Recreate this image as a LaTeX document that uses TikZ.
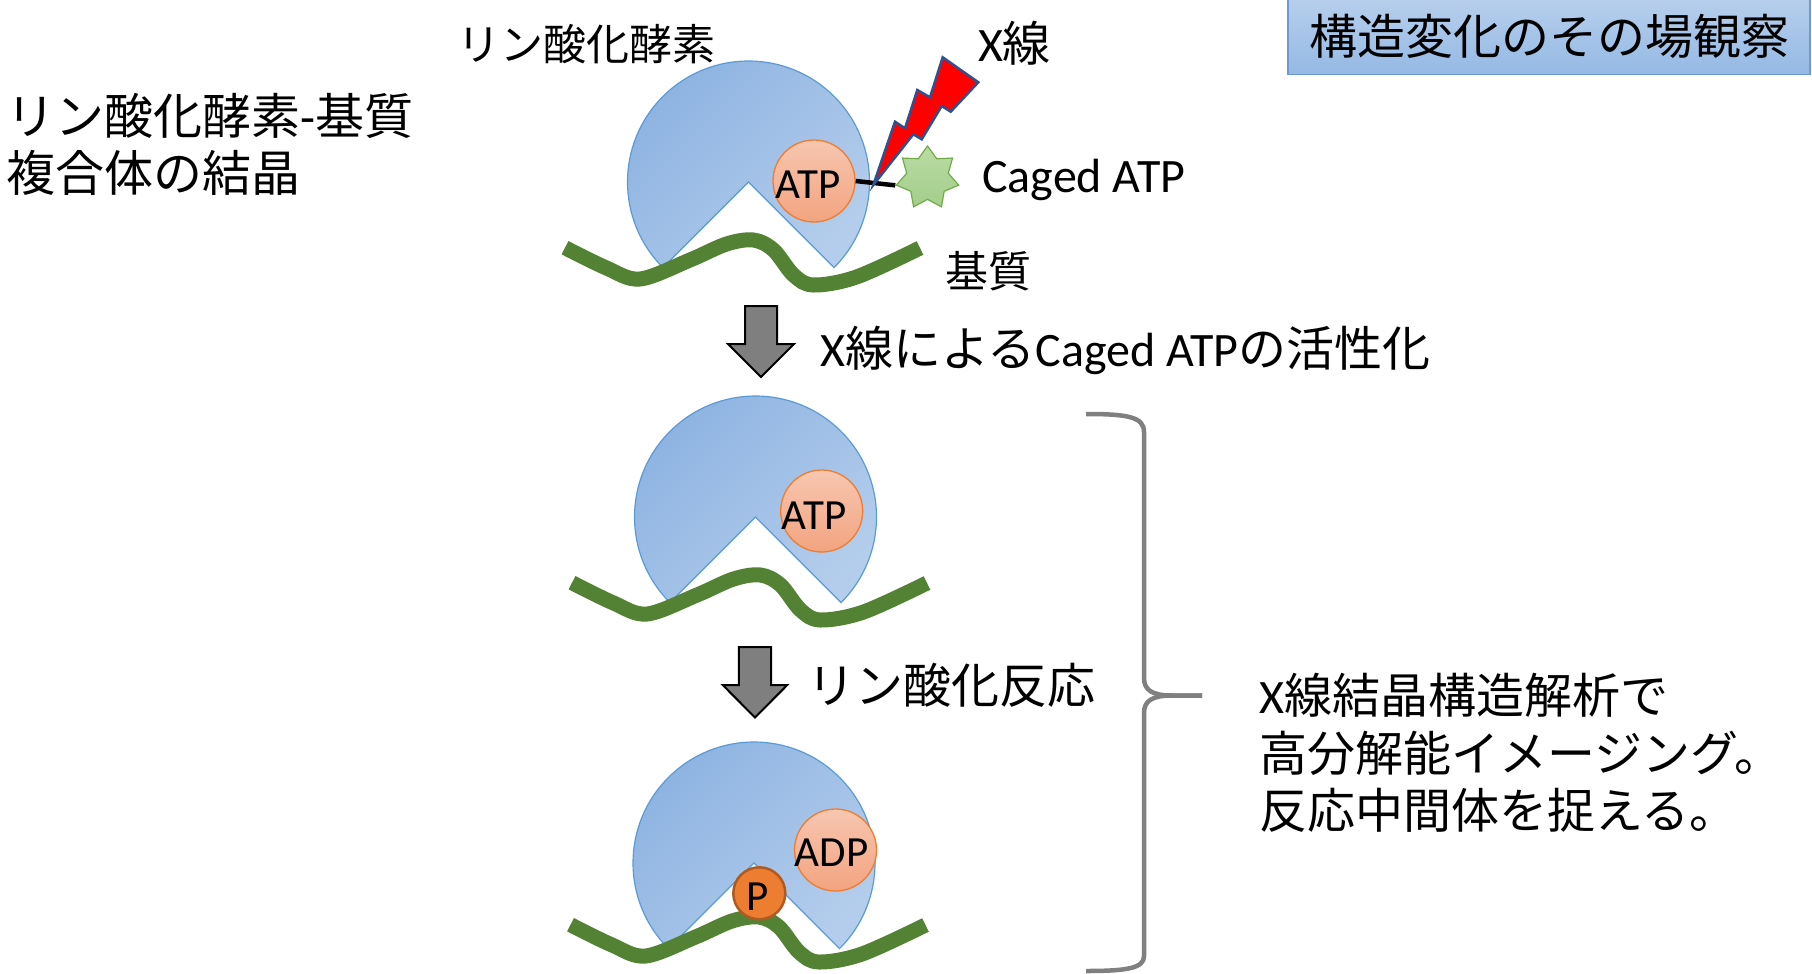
\documentclass[tikz,border=0pt]{standalone}
\usepackage{fontspec}
\setmainfont{Carlito}
\newfontfamily\jp{Noto Sans CJK JP}
\usetikzlibrary{shapes.geometric}

\definecolor{enzA}{RGB}{140,178,225}
\definecolor{enzB}{RGB}{180,205,236}
\definecolor{enzLine}{RGB}{91,155,213}
\definecolor{nucA}{RGB}{247,198,176}
\definecolor{nucB}{RGB}{243,164,128}
\definecolor{nucLine}{RGB}{237,125,49}
\definecolor{phos}{RGB}{237,125,49}
\definecolor{phosLine}{RGB}{174,90,33}
\definecolor{substr}{RGB}{84,130,53}
\definecolor{cageA}{RGB}{186,219,166}
\definecolor{cageB}{RGB}{163,206,138}
\definecolor{cageLine}{RGB}{112,173,71}
\definecolor{boltLine}{RGB}{47,82,143}
\definecolor{stepGray}{RGB}{127,127,127}
\definecolor{braceGray}{RGB}{128,128,128}
\definecolor{titleA}{RGB}{184,207,237}
\definecolor{titleB}{RGB}{148,185,228}
\definecolor{titleLine}{RGB}{108,155,210}

\tikzset{
  enzyme/.style={draw=enzLine, line width=1.2, left color=enzA, right color=enzB, shading angle=45},
  substrate/.style={draw=substr, line width=15},
  nucleotide/.style={circle, draw=nucLine, line width=1.3, top color=nucA, bottom color=nucB, minimum size=82, inner sep=0},
  phosphate/.style={circle, draw=phosLine, line width=2.5, fill=phos, minimum size=52, inner sep=0},
  molname/.style={font=\fontsize{43}{50}\selectfont, inner sep=0},
  cage/.style={star, star points=7, star point ratio=1.5, minimum size=64, inner sep=0, draw=cageLine, line width=1.2, top color=cageA, bottom color=cageB},
  tether/.style={line width=4.5, draw=black},
  bolt/.style={draw=boltLine, line width=2.5, fill=red, line join=miter},
  stepArrow/.style={draw=black, line width=2, fill=stepGray, line join=miter},
  brace/.style={draw=braceGray, line width=4.5},
  bigtext/.style={font=\fontsize{48}{57.5}\selectfont, inner sep=0},
  midtext/.style={font=\fontsize{43}{52}\selectfont, inner sep=0},
  titlebox/.style={draw=titleLine, line width=1.5, top color=titleA, bottom color=titleB, minimum width=522, minimum height=77, inner sep=0, font=\fontsize{48}{57}\selectfont},
}

% enzyme body: a disc with a wedge-shaped cleft opening downwards
\newcommand\enzymebody{%
  \path[enzyme] (0,0) -- (135:121) arc[start angle=135, end angle=405, radius=121] -- cycle;}
% the wavy substrate chain under the enzyme
\newcommand\substratechain{%
  \path[substrate] plot[smooth, tension=0.55] coordinates {(-183.5,65.7) (-142,86) (-108.5,97) (-58.5,78) (-22,62) (5,58) (25,68) (45,93) (65,103) (108,95) (171.5,66)};}

\begin{document}
\begin{tikzpicture}[x=1pt, y=-1pt]
\useasboundingbox (0,0) rectangle (1812,974);
\fill[white] (0,0) rectangle (1812,974);

% title box
\node[titlebox] (title) at (1549,36) {\jp 構造変化のその場観察};

% left caption
\node[bigtext, font=\fontsize{49}{57.5}\selectfont, anchor=west, align=left] (crystal) at (6,144.5) {{\jp リン酸化酵素}-{\jp 基質}\\{\jp 複合体の結晶}};

% ---- stage 1: enzyme with caged ATP ----
\begin{scope}[shift={(748.5,182)}]
  \enzymebody
  \substratechain
\end{scope}
\node[nucleotide] (atp1) at (814,181) {};
\node[molname] (atp1-label) at (808,185) {ATP};
\node[cage] (cage) at (927.5,178) {};
\draw[tether] (atp1.east) -- (cage.outer point 3);
\path[bolt] (942.7,57.3) -- (978.3,82.3) -- (950.7,111.7) -- (941.7,106) -- (921.7,139.3) -- (913.3,134.3) -- (873.3,185) -- (895,121.7) -- (905,128.3) -- (917.3,90) -- (930,97.3) -- cycle;

\node[midtext, anchor=west] (kinase) at (457,44) {\jp リン酸化酵素};
\node[bigtext] (xray) at (1014.5,43) {X{\jp 線}};
\node[bigtext, anchor=west] (cagedlabel) at (982,180) {Caged ATP};
\node[midtext] (substratelabel) at (988,271.6) {\jp 基質};

% step arrow 1
\path[stepArrow] (745,306) -- (777,306) -- (777,344) -- (794,344) -- (761,377) -- (728,344) -- (745,344) -- cycle;
\node[bigtext, anchor=west] (step1) at (820,350) {X{\jp 線による}Caged ATP{\jp の活性化}};

% ---- stage 2: uncaged ATP bound ----
\begin{scope}[shift={(755.5,517)}]
  \enzymebody
  \substratechain
\end{scope}
\node[nucleotide] (atp2) at (821.7,511) {};
\node[molname] (atp2-label) at (814,516) {ATP};

% step arrow 2
\path[stepArrow] (738.8,647) -- (771.2,647) -- (771.2,685) -- (787.3,685) -- (755,717.5) -- (722.7,685) -- (738.8,685) -- cycle;
\node[bigtext, anchor=west] (step2) at (807,685) {\jp リン酸化反応};

% ---- stage 3: ADP and transferred phosphate ----
\begin{scope}[shift={(754,863)}]
  \enzymebody
\end{scope}
\begin{scope}[shift={(754,859)}]
  \substratechain
\end{scope}
\node[nucleotide] (adp) at (835.5,850) {};
\node[molname] (adp-label) at (831.5,853) {ADP};
\node[phosphate] (pi) at (759.3,893.3) {};
\node[molname] (pi-label) at (757.5,897) {P};

% brace grouping stages 2 and 3
\path[brace] (1086,414) .. controls (1128,414) and (1144,417) .. (1144,432) -- (1144,678)
  .. controls (1144,690) and (1152,695.5) .. (1172,695.5) -- (1202,695.5);
\path[brace] (1202,695.5) -- (1172,695.5) .. controls (1152,695.5) and (1144,701) .. (1144,713)
  -- (1144,956) .. controls (1144,968) and (1128,971) .. (1086,971);

\node[bigtext, anchor=west, align=left] (result) at (1259,753) {X{\jp 線結晶構造解析で}\\{\jp 高分解能イメージング。}\\{\jp 反応中間体を捉える。}};
\end{tikzpicture}
\end{document}
